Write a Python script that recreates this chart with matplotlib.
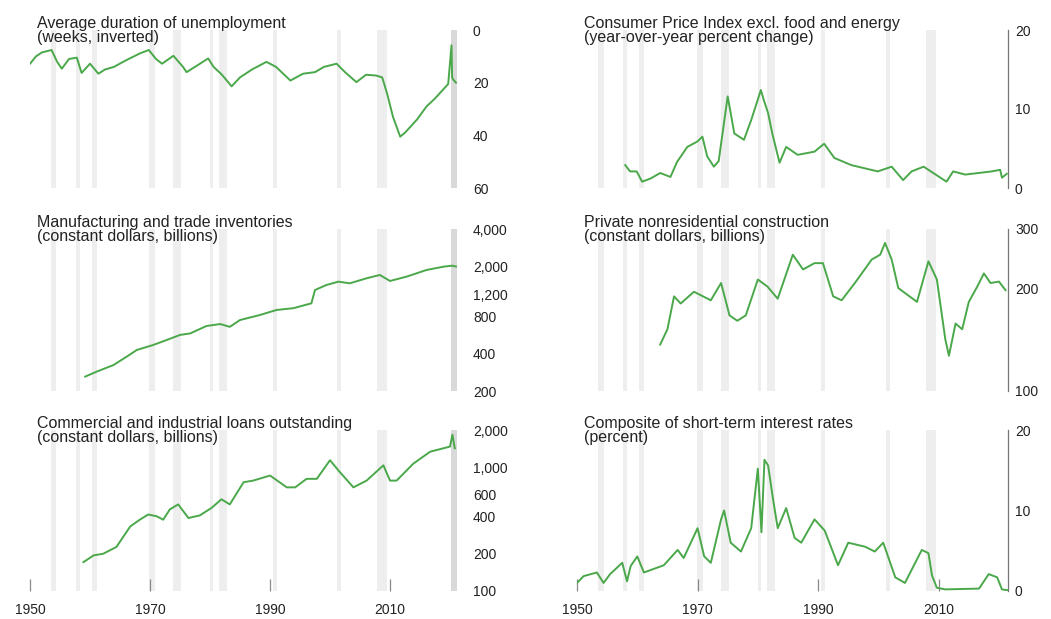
import matplotlib
matplotlib.use("Agg")
import matplotlib.pyplot as plt
from matplotlib.ticker import FixedLocator, FuncFormatter, NullLocator

plt.rcParams['font.family'] = ['Liberation Sans', 'DejaVu Sans']

# ---------------- data ----------------
recessions = [(1953.5, 1954.4), (1957.6, 1958.3), (1960.3, 1961.1), (1969.9, 1970.9),
              (1973.9, 1975.2), (1980.0, 1980.5), (1981.5, 1982.9), (1990.5, 1991.2),
              (2001.2, 2001.9), (2007.9, 2009.5)]
covid_band = (2020.2, 2021.2)

dur_years = [1950.0, 1951.0, 1952.0, 1953.6, 1954.5, 1955.3, 1956.5, 1957.8, 1958.6, 1960.0,
             1961.4, 1962.5, 1964.0, 1966.0, 1968.3, 1969.8, 1971.0, 1972.0, 1973.9, 1975.5,
             1976.1, 1977.5, 1979.7, 1980.6, 1982.0, 1983.6, 1985.0, 1987.0, 1989.4, 1991.0,
             1993.4, 1995.5, 1997.5, 1999.0, 2001.1, 2002.5, 2004.4, 2006.0, 2007.7, 2008.7,
             2009.5, 2010.5, 2011.7, 2012.5, 2013.3, 2014.5, 2016.1, 2017.5, 2019.7, 2020.25,
             2020.35, 2020.6, 2021.0]
dur_weeks = [12.8, 10.0, 8.5, 7.6, 12.0, 14.7, 11.0, 10.5, 16.3, 12.8,
             16.6, 15.0, 14.0, 11.5, 8.9, 7.6, 11.0, 12.8, 9.8, 14.0,
             16.0, 14.0, 10.8, 14.0, 17.0, 21.4, 18.0, 15.0, 12.1, 14.0,
             19.2, 16.6, 16.0, 14.0, 12.8, 16.0, 19.8, 17.0, 17.3, 18.0,
             24.0, 33.0, 40.5, 39.0, 37.0, 34.0, 29.0, 26.0, 20.5, 5.8,
             18.0, 19.0, 20.0]

cpi_years = [1958.0, 1958.8, 1959.9, 1960.8, 1962.2, 1963.8, 1965.5, 1966.6, 1968.3, 1970.0,
             1970.8, 1971.6, 1972.7, 1973.5, 1975.0, 1976.1, 1977.7, 1978.9, 1980.5, 1981.0,
             1981.7, 1982.4, 1983.6, 1984.7, 1986.6, 1989.4, 1991.0, 1992.7, 1995.5, 1997.7,
             1999.9, 2002.2, 2004.1, 2005.5, 2007.5, 2009.1, 2011.3, 2012.4, 2014.4, 2016.6,
             2018.8, 2020.2, 2020.5, 2021.3]
cpi_pct = [2.9, 2.1, 2.1, 0.8, 1.2, 1.9, 1.4, 3.3, 5.2, 5.9,
           6.5, 4.0, 2.7, 3.4, 11.6, 6.9, 6.1, 8.6, 12.4, 11.1,
           9.5, 6.9, 3.2, 5.2, 4.2, 4.6, 5.6, 3.8, 2.9, 2.5,
           2.1, 2.7, 1.0, 2.1, 2.7, 1.9, 0.8, 2.1, 1.7, 1.9,
           2.1, 2.3, 1.3, 1.8]

inv_years = [1959.2, 1961.1, 1963.9, 1966.1, 1967.8, 1970.5, 1972.8, 1975.0, 1976.7, 1979.4,
             1981.7, 1983.3, 1985.0, 1988.3, 1991.1, 1993.9, 1996.9, 1997.5, 1999.4, 2001.4,
             2003.3, 2006.1, 2008.3, 2010.0, 2012.8, 2016.1, 2018.9, 2020.3, 2021.0]
inv_bil = [261, 286, 323, 377, 427, 468, 514, 564, 580, 665,
           690, 655, 743, 815, 895, 925, 1012, 1295, 1420, 1510,
           1465, 1608, 1710, 1530, 1660, 1875, 1992, 2030, 2000]

con_years = [1963.8, 1965.0, 1966.1, 1967.2, 1969.4, 1972.2, 1973.9, 1975.3, 1976.6, 1978.0,
             1980.0, 1981.6, 1983.3, 1985.8, 1987.5, 1989.4, 1990.8, 1992.5, 1993.9, 1996.1,
             1998.9, 2000.3, 2001.1, 2002.2, 2003.3, 2006.4, 2008.3, 2009.7, 2011.1, 2011.7,
             2012.8, 2013.9, 2015.0, 2016.4, 2017.5, 2018.6, 2020.0, 2021.1]
con_bil = [137, 152, 190, 181, 196, 185, 208, 167, 161, 167,
           213, 203, 187, 252, 228, 238, 238, 190, 185, 208,
           244, 252, 273, 244, 201, 183, 241, 213, 142, 127,
           158, 152, 183, 203, 222, 208, 210, 198]

loan_years = [1958.9, 1960.6, 1962.2, 1964.4, 1966.7, 1968.3, 1969.7, 1971.1, 1972.2, 1973.3,
              1974.7, 1976.4, 1978.3, 1980.3, 1981.9, 1983.3, 1985.6, 1987.2, 1990.0, 1992.8,
              1994.2, 1996.1, 1997.8, 2000.0, 2001.4, 2003.9, 2006.1, 2008.9, 2010.0, 2011.1,
              2013.9, 2016.7, 2018.9, 2020.0, 2020.4, 2020.8]
loan_bil = [171, 194, 200, 227, 332, 377, 415, 402, 377, 456,
            501, 389, 408, 471, 551, 501, 757, 780, 857, 688,
            688, 806, 806, 1140, 943, 688, 780, 1037, 780, 780,
            1071, 1336, 1423, 1470, 1832, 1423]

rate_years = [1950.0, 1951.1, 1953.3, 1954.4, 1955.5, 1957.5, 1958.3, 1958.9, 1960.0, 1961.1,
              1964.4, 1966.7, 1967.7, 1970.0, 1971.1, 1972.2, 1973.9, 1974.4, 1975.5, 1977.2,
              1978.9, 1980.0, 1980.6, 1981.1, 1981.7, 1982.5, 1983.3, 1984.7, 1986.1, 1987.2,
              1989.4, 1991.1, 1993.3, 1995.0, 1997.8, 1999.4, 2000.8, 2002.8, 2004.4, 2007.2,
              2008.3, 2008.9, 2009.7, 2011.1, 2016.7, 2018.3, 2019.7, 2020.5, 2021.4]
rate_pct = [1.0, 1.85, 2.3, 1.0, 2.1, 3.5, 1.2, 3.1, 4.3, 2.3,
            3.2, 5.1, 4.1, 7.8, 4.3, 3.5, 8.9, 10.0, 6.0, 4.9,
            7.8, 15.2, 7.3, 16.3, 15.6, 11.5, 7.8, 10.3, 6.6, 6.0,
            8.9, 7.5, 3.2, 6.0, 5.5, 4.9, 6.0, 1.7, 1.0, 5.1,
            4.7, 1.9, 0.4, 0.2, 0.3, 2.1, 1.7, 0.2, 0.1]

titles = ["Average duration of unemployment\n(weeks, inverted)",
          "Consumer Price Index excl. food and energy\n(year-over-year percent change)",
          "Manufacturing and trade inventories\n(constant dollars, billions)",
          "Private nonresidential construction\n(constant dollars, billions)",
          "Commercial and industrial loans outstanding\n(constant dollars, billions)",
          "Composite of short-term interest rates\n(percent)"]

x_ticks = [1950, 1970, 1990, 2010]

# ---------------- figure ----------------
W, H = 1051, 619
fig = plt.figure(figsize=(W / 100, H / 100), dpi=100)
fig.patch.set_facecolor('white')

LINE = '#4aa84a'
BAND = '#eeeeee'
TXT = '#222222'

def px_axes(x0, y0, x1, y1):
    return fig.add_axes([x0 / W, 1 - y1 / H, (x1 - x0) / W, (y1 - y0) / H])

cols = [(30, 459), (577, 1008)]
rows = [(30, 188), (229, 391), (430, 591)]

panels = [
    (dur_years, dur_weeks, 'lin', (60, 0), [0, 20, 40, 60]),
    (cpi_years, cpi_pct, 'lin', (0, 20), [0, 10, 20]),
    (inv_years, inv_bil, 'log', (200, 4000), [200, 400, 800, 1200, 2000, 4000]),
    (con_years, con_bil, 'log', (100, 300), [100, 200, 300]),
    (loan_years, loan_bil, 'log', (100, 2000), [100, 200, 400, 600, 1000, 2000]),
    (rate_years, rate_pct, 'lin', (0, 20), [0, 10, 20]),
]

for i, (xs, ys, scale, ylim, yt) in enumerate(panels):
    r, c = divmod(i, 2)
    x0, x1 = cols[c]
    y0, y1 = rows[r]
    ax = px_axes(x0, y0, x1, y1)
    ax.set_facecolor('none')
    for s, e in recessions:
        ax.axvspan(s, e, color=BAND, lw=0, zorder=0)
    if c == 0:
        ax.axvspan(covid_band[0], covid_band[1], color='#d9d9d9', lw=0, zorder=0)
    ax.plot(xs, ys, color=LINE, lw=1.4, zorder=3, solid_joinstyle='round')
    ax.set_xlim(1950, 2021.5)
    if scale == 'log':
        ax.set_yscale('log')
    ax.set_ylim(*ylim)
    ax.yaxis.set_major_locator(FixedLocator(yt))
    ax.yaxis.set_minor_locator(NullLocator())
    ax.yaxis.set_major_formatter(FuncFormatter(lambda v, p: f"{v:,.0f}"))
    ax.yaxis.tick_right()
    ax.tick_params(axis='y', length=0, labelsize=10, labelcolor=TXT,
                   pad=(10 if c == 0 else 5))
    for sp in ['top', 'left', 'bottom']:
        ax.spines[sp].set_visible(False)
    if c == 1:
        ax.spines['right'].set_color('#777777')
        ax.spines['right'].set_linewidth(0.9)
    else:
        ax.spines['right'].set_visible(False)
    if r == 2:
        ax.set_xticks(x_ticks)
        ax.set_xticklabels([str(t) for t in x_ticks])
        ax.tick_params(axis='x', direction='in', length=9, width=0.9, color='#888888',
                       labelsize=10, labelcolor=TXT, pad=9)
    else:
        ax.set_xticks([])
    ax.set_xticks([], minor=True)
    fig.text((x0 + 7) / W, 1 - (y0 - 14) / H, titles[i], ha='left', va='top',
             fontsize=11.5, color=TXT, linespacing=0.92)

fig.savefig('out.png', dpi=100, facecolor='white')
